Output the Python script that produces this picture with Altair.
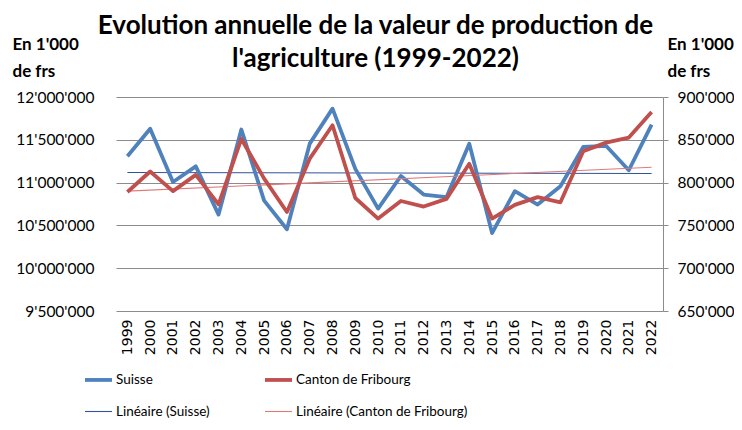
import altair as alt
import pandas as pd

years = list(range(1999, 2023))
suisse = [11307000, 11630000, 11007000, 11190000, 10626000, 11620000, 10790000, 10455000,
          11455000, 11864000, 11160000, 10696000, 11077000, 10860000, 10830000, 11455000,
          10410000, 10900000, 10743000, 10957000, 11416000, 11430000, 11144000, 11678000]
fribourg = [789000, 813000, 790000, 809000, 774600, 851000, 804700, 765700,
            828000, 867000, 782000, 758000, 778500, 772000, 781000, 822000,
            758000, 774000, 783000, 777000, 836600, 846700, 852600, 882500]

# order chosen so that a 2-column legend reads like the original
series_names = ["Suisse", "Linéaire (Suisse)", "Canton de Fribourg", "Linéaire (Canton de Fribourg)"]
series_colors = ["#4F81BD", "#2F5597", "#C0504D", "#E07A78"]
series_widths = [3.8, 1.1, 3.8, 1.1]

df_s = pd.DataFrame({"year": years, "value": suisse, "series": "Suisse"})
df_f = pd.DataFrame({"year": years, "value": fribourg, "series": "Canton de Fribourg"})

FONT = "Lato"
LABEL_EXPR = "join(split(format(datum.value, ','), ','), \"'\")"

legend_opts = dict(title=None, orient="none", legendX=-33, legendY=267,
                   columns=2, columnPadding=47, rowPadding=9,
                   symbolType="stroke", symbolSize=729, labelFont=FONT,
                   labelFontSize=13.5, labelColor="#000", labelOffset=2, labelLimit=300)

color = alt.Color("series:N", scale=alt.Scale(domain=series_names, range=series_colors),
                  legend=alt.Legend(**legend_opts))
swidth = alt.StrokeWidth("series:N",
                         scale=alt.Scale(type="ordinal", domain=series_names, range=series_widths),
                         legend=alt.Legend(**legend_opts))

x = alt.X("year:O", title=None,
          scale=alt.Scale(type="point", padding=0.5),
          axis=alt.Axis(labelAngle=270, labelFont="DejaVu Sans", labelFontSize=14,
                        labelColor="#000", ticks=False, domain=False, labelPadding=8,
                        labelAlign="right", labelBaseline="middle"))

y_left = alt.Y("value:Q", title=["En 1'000", "de frs"],
               scale=alt.Scale(domain=[9500000, 12000000], nice=False, zero=False),
               axis=alt.Axis(values=[9500000, 10000000, 10500000, 11000000, 11500000, 12000000],
                             labelExpr=LABEL_EXPR, labelFont=FONT, labelFontSize=15.5, labelColor="#000",
                             ticks=False, domain=False, labelPadding=22,
                             gridColor="#8C8C8C", gridWidth=1,
                             titleAngle=0, titleAlign="left", titleBaseline="top",
                             titleX=-104, titleY=-61, titleFont=FONT, titleFontSize=17,
                             titleFontWeight="bold", titleColor="#000", titleLineHeight=27))
y_right = alt.Y("value:Q", title=["En 1'000", "de frs"],
                scale=alt.Scale(domain=[650000, 900000], nice=False, zero=False),
                axis=alt.Axis(orient="right",
                              values=[650000, 700000, 750000, 800000, 850000, 900000],
                              labelExpr=LABEL_EXPR, labelFont=FONT, labelFontSize=15.5, labelColor="#000",
                              ticks=True, tickSize=5, tickColor="#8C8C8C", domain=True,
                              domainColor="#8C8C8C", labelPadding=9, grid=False,
                              titleAngle=0, titleAlign="left", titleBaseline="top",
                              titleX=4, titleY=-61, titleFont=FONT, titleFontSize=17,
                              titleFontWeight="bold", titleColor="#000", titleLineHeight=27))

base_s = alt.Chart(df_s)
line_s = base_s.mark_line(strokeJoin="round").encode(x=x, y=y_left, color=color, strokeWidth=swidth)
trend_s = base_s.transform_regression("year", "value").transform_calculate(
    series="'Linéaire (Suisse)'").mark_line().encode(x=x, y=y_left, color=color, strokeWidth=swidth)
left = alt.layer(trend_s, line_s)

base_f = alt.Chart(df_f)
line_f = base_f.mark_line(strokeJoin="round").encode(x=x, y=y_right, color=color, strokeWidth=swidth)
trend_f = base_f.transform_regression("year", "value").transform_calculate(
    series="'Linéaire (Canton de Fribourg)'").mark_line().encode(x=x, y=y_right, color=color, strokeWidth=swidth)
right = alt.layer(trend_f, line_f)

chart = alt.layer(left, right).resolve_scale(y="independent").properties(
    width=547, height=214,
    autosize=alt.AutoSizeParams(type="none"),
    padding={"left": 108, "top": 89, "right": 71, "bottom": 111},
    title=alt.Title(["Evolution annuelle de la valeur de production de", "l'agriculture (1999-2022)"],
                    font=FONT, fontSize=26, fontWeight="bold", color="#000",
                    anchor="middle", dx=-14, offset=0, dy=37, lineHeight=33),
).configure_view(stroke=None)

chart.save("out.html", embed_options={"renderer": "svg", "actions": False})
